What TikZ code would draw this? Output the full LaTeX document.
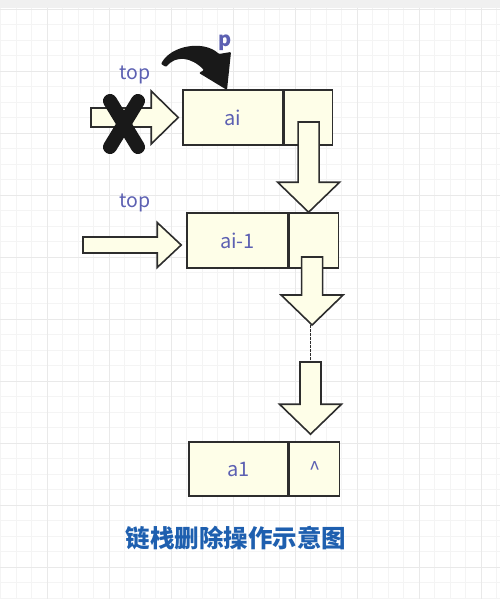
\documentclass[tikz,border=0pt]{standalone}
\usepackage{fontspec}
\setmainfont{Noto Sans CJK SC}
\usepackage{tikz}
\usetikzlibrary{calc,positioning}

\definecolor{cream}{RGB}{254,254,232}
\definecolor{edgegray}{RGB}{45,45,45}
\definecolor{labelblue}{RGB}{92,96,178}
\definecolor{titleblue}{RGB}{30,95,175}

% block arrows, drawn from a start point to a tip
\newcommand{\downarr}[2]{\draw[blockarrow] let \p1=#1, \p2=#2 in
  (\x1-10.5pt,\y1) -- (\x1+10.5pt,\y1) -- (\x1+10.5pt,\y2+30pt) -- (\x1+31pt,\y2+30pt)
  -- (\x1,\y2) -- (\x1-31pt,\y2+30pt) -- (\x1-10.5pt,\y2+30pt) -- cycle;}
\newcommand{\rightarr}[5]{\draw[blockarrow] let \p1=#1, \p2=#2 in
  (\x1,\y1+#3) -- (\x2-#5,\y1+#3) -- (\x2-#5,\y1+#4) -- (\x2,\y1)
  -- (\x2-#5,\y1-#4) -- (\x2-#5,\y1-#3) -- (\x1,\y1-#3) -- cycle;}

\begin{document}
\begin{tikzpicture}[x=1pt,y=-1pt,
  datafield/.style={rectangle, draw=edgegray, line width=1.6pt, fill=cream,
    minimum width=100pt, minimum height=55pt, inner sep=0pt,
    text=labelblue, font=\fontsize{20}{20}\selectfont},
  ptrfield/.style={datafield, minimum width=49pt, anchor=west},
  blockarrow/.style={draw=edgegray, line width=1.6pt, fill=cream, line join=miter},
  toplabel/.style={text=labelblue, font=\fontsize{19.5}{19.5}\selectfont}]
\useasboundingbox (0,0) rectangle (500,599);

% background grid
\fill[gray!12] (0,0) rectangle (500,8);
\foreach \i in {0,...,33} \draw[gray!9, line width=0.8pt] (-15+15.5*\i,8) -- ++(0,591);
\foreach \i in {0,...,38} \draw[gray!9, line width=0.8pt] (0,9+15.5*\i) -- ++(500,0);
\foreach \i in {0,...,8} \draw[gray!17, line width=0.9pt] (-15+62*\i,8) -- ++(0,591);
\foreach \i in {0,...,9} \draw[gray!17, line width=0.9pt] (0,9+62*\i) -- ++(500,0);

% list nodes
\node (ai) at (233,117.5) [datafield] {ai};
\node (aip) at (ai.east) [ptrfield, minimum width=48pt] {};

\node (aim1) at (237.5,240.5) [datafield, minimum width=101pt] {ai-1};
\node (aim1p) at (aim1.east) [ptrfield] {};

\node (a1) at (238.5,469) [datafield, minimum width=99pt, minimum height=54pt] {a1};
\node (a1p) at (a1.east) [ptrfield, minimum width=50pt, minimum height=54pt] {\textasciicircum};

% top pointers
\node (top1) at (135,75) [toplabel] {top};
\node (top2) at (135,203) [toplabel] {top};
\coordinate (t1) at (91,117.5);
\coordinate (t2) at (83,245);
\rightarr{(t1)}{([xshift=-4pt]ai.west)}{9.5pt}{26.5pt}{27pt}
\rightarr{(t2)}{([xshift=-5pt]aim1.west |- t2)}{8pt}{22.5pt}{24pt}

% next links
\coordinate (s1) at ([yshift=-4.5pt]aip.center);
\coordinate (s2) at ([xshift=-2pt,yshift=-16.5pt]aim1p.center);
\coordinate (d1) at (310.5,325);
\coordinate (d2) at (310.5,362);
\downarr{(s1)}{(aim1p.north -| s1)}
\downarr{(s2)}{(d1)}
\draw[edgegray, line width=0.8pt, dash pattern=on 2.5pt off 1.5pt] (d1) -- (d2);
\downarr{(d2)}{([yshift=7pt]a1p.north -| d2)}

% crossed out old top
\draw[black!90, line width=14pt, line cap=round] (110,101) -- (138,147) (138,101) -- (110,147);

% p moves on
\node (p) at (225,43) [text=labelblue, font=\fontsize{20}{20}\selectfont\bfseries] {p};
\fill[black!90, rounded corners=1pt] (161,64) .. controls (171,45) and (204,40) .. (219,54)
  -- (231,52) -- (227,90) -- (199,73) -- (204,70)
  .. controls (191,57) and (176,55) .. (166,67) -- cycle;

% caption
\node (title) at (236,538) [text=titleblue, font=\fontsize{24.5}{24.5}\selectfont\bfseries] {链栈删除操作示意图};
\end{tikzpicture}
\end{document}
